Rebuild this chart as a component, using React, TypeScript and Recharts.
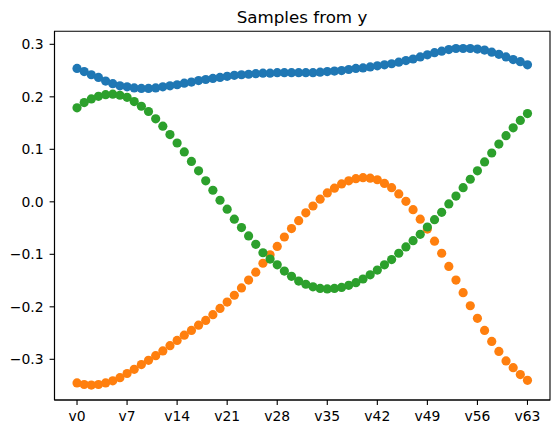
import React from 'react';
import { ScatterChart, Scatter, XAxis, YAxis, ReferenceArea } from 'recharts';

const labels: string[] = Array.from({ length: 64 }, (_, i) => `v${i}`);

const blue: number[] = [
  0.254, 0.248, 0.242, 0.237, 0.23, 0.225, 0.221, 0.219, 0.217, 0.216,
  0.216, 0.217, 0.219, 0.221, 0.223, 0.226, 0.228, 0.231, 0.233, 0.235,
  0.237, 0.239, 0.241, 0.242, 0.243, 0.244, 0.245, 0.245, 0.246, 0.246,
  0.246, 0.246, 0.246, 0.246, 0.247, 0.248, 0.249, 0.25, 0.252, 0.254,
  0.255, 0.257, 0.259, 0.261, 0.263, 0.266, 0.269, 0.272, 0.276, 0.28,
  0.284, 0.287, 0.29, 0.292, 0.292, 0.292, 0.291, 0.289, 0.285, 0.281,
  0.276, 0.271, 0.267, 0.261,
];

const orange: number[] = [
  -0.345, -0.348, -0.349, -0.348, -0.345, -0.341, -0.335, -0.327, -0.319, -0.31,
  -0.302, -0.293, -0.284, -0.274, -0.264, -0.254, -0.245, -0.235, -0.226, -0.215,
  -0.203, -0.191, -0.178, -0.164, -0.149, -0.134, -0.117, -0.101, -0.085, -0.067,
  -0.051, -0.036, -0.021, -0.008, 0.005, 0.017, 0.026, 0.034, 0.04, 0.044,
  0.046, 0.045, 0.042, 0.035, 0.027, 0.015, 0.001, -0.015, -0.033, -0.052,
  -0.075, -0.098, -0.123, -0.149, -0.173, -0.198, -0.222, -0.245, -0.266, -0.285,
  -0.303, -0.316, -0.329, -0.34,
];

const green: number[] = [
  0.179, 0.189, 0.196, 0.201, 0.204, 0.205, 0.203, 0.199, 0.191, 0.182,
  0.172, 0.158, 0.144, 0.128, 0.112, 0.095, 0.077, 0.059, 0.04, 0.022,
  0.003, -0.014, -0.033, -0.049, -0.065, -0.081, -0.097, -0.109, -0.12, -0.132,
  -0.142, -0.151, -0.157, -0.162, -0.165, -0.166, -0.165, -0.163, -0.159, -0.154,
  -0.147, -0.139, -0.13, -0.12, -0.11, -0.098, -0.086, -0.074, -0.062, -0.048,
  -0.034, -0.02, -0.004, 0.011, 0.027, 0.043, 0.059, 0.076, 0.093, 0.11,
  0.126, 0.141, 0.155, 0.168,
];

const xTicks: number[] = [0, 7, 14, 21, 28, 35, 42, 49, 56, 63];
const yTicks: number[] = [-0.3, -0.2, -0.1, 0, 0.1, 0.2, 0.3];

const X_DOMAIN: [number, number] = [-3.15, 66.15];
const Y_DOMAIN: [number, number] = [-0.3775, 0.3248];

const FONT = '"DejaVu Sans", sans-serif';

const toPoints = (vals: number[]) => vals.map((y, i) => ({ x: i, y }));

// matplotlib prints a real minus sign
const formatY = (v: number) => {
  const s = Math.abs(v).toFixed(1);
  return v < -1e-9 ? `\u2212${s}` : s;
};

const dot = (color: string) => (props: any) =>
  <circle cx={props.cx} cy={props.cy} r={4.6} fill={color} />;

export default function App() {
  const tickStyle = { fontSize: 13.9, fill: '#000', fontFamily: FONT };
  return (
    <div style={{ position: 'absolute', left: 0, top: 0, width: 559, height: 434, background: '#fff' }}>
      <div
        style={{
          position: 'absolute',
          left: 302 - 150,
          width: 300,
          top: 8.6,
          textAlign: 'center',
          fontFamily: FONT,
          fontSize: 16.7,
          lineHeight: 1,
          color: '#000',
        }}
      >
        Samples from y
      </div>
      <ScatterChart width={559} height={434} margin={{ top: 31.3, right: 9, bottom: 4, left: 0 }}>
        <XAxis
          type="number"
          dataKey="x"
          domain={X_DOMAIN}
          allowDataOverflow
          ticks={xTicks}
          interval={0}
          tickFormatter={(i: number) => labels[i]}
          tick={tickStyle}
          tickSize={4.9}
          tickMargin={6}
          height={30}
          stroke="#000"
          strokeWidth={1.1}
        />
        <YAxis
          type="number"
          dataKey="y"
          domain={Y_DOMAIN}
          allowDataOverflow
          ticks={yTicks}
          interval={0}
          tickFormatter={formatY}
          tick={tickStyle}
          tickSize={4.9}
          tickMargin={6}
          width={54.5}
          stroke="#000"
          strokeWidth={1.1}
        />
        <ReferenceArea
          x1={X_DOMAIN[0]}
          x2={X_DOMAIN[1]}
          y1={Y_DOMAIN[0]}
          y2={Y_DOMAIN[1]}
          fill="none"
          stroke="#000"
          strokeWidth={1.1}
          fillOpacity={0}
        />
        <Scatter data={toPoints(blue)} shape={dot('#1f77b4')} isAnimationActive={false} />
        <Scatter data={toPoints(orange)} shape={dot('#ff7f0e')} isAnimationActive={false} />
        <Scatter data={toPoints(green)} shape={dot('#2ca02c')} isAnimationActive={false} />
      </ScatterChart>
    </div>
  );
}
